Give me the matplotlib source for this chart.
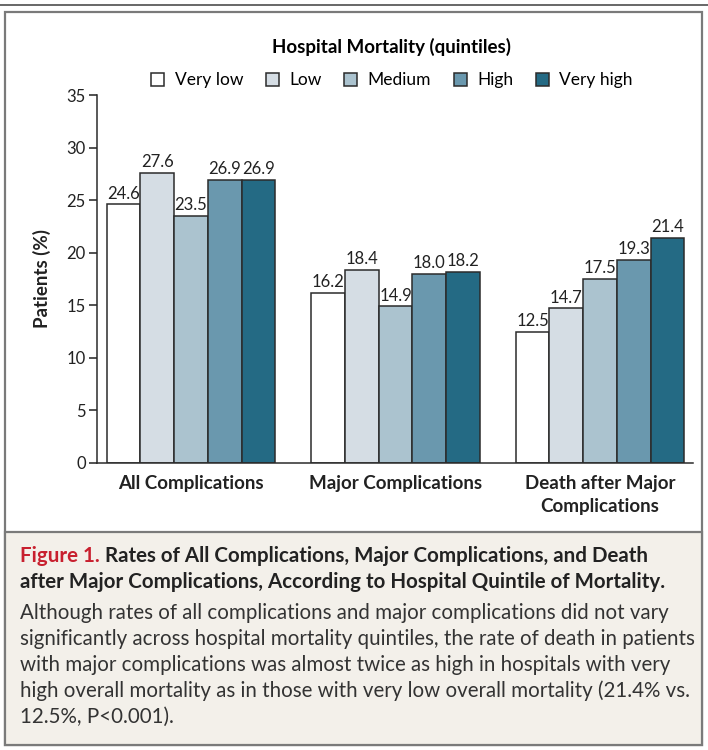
import numpy as np
import matplotlib
matplotlib.use("Agg")
import matplotlib.pyplot as plt
from matplotlib.patches import Rectangle
from matplotlib.text import Annotation

plt.rcParams['font.family'] = ['Lato', 'DejaVu Sans']

# Data
groups = ["All Complications", "Major Complications", "Death after Major\nComplications"]
quintiles = ["Very low", "Low", "Medium", "High", "Very high"]
very_low = [24.6, 16.2, 12.5]
low = [27.6, 18.4, 14.7]
medium = [23.5, 14.9, 17.5]
high = [26.9, 18.0, 19.3]
very_high = [26.9, 18.2, 21.4]
series = [very_low, low, medium, high, very_high]
colors = ["#FFFFFF", "#D5DDE4", "#ABC3CF", "#6A98AE", "#246A84"]
yticks = [0, 5, 10, 15, 20, 25, 30, 35]

caption_head = "Figure 1."
caption_title = ("Rates of All Complications, Major Complications, and Death\n"
                 "after Major Complications, According to Hospital Quintile of Mortality.")
caption_body = ("Although rates of all complications and major complications did not vary\n"
                "significantly across hospital mortality quintiles, the rate of death in patients\n"
                "with major complications was almost twice as high in hospitals with very\n"
                "high overall mortality as in those with very low overall mortality (21.4% vs.\n"
                "12.5%, P<0.001).")

fig = plt.figure(figsize=(7.08, 7.5), dpi=100)
W, H = 708, 750

def fx(px):
    return px / W

def fy(py):
    return 1 - py / H

# frame and caption panel (behind the axes)
fig.add_artist(Rectangle((fx(0), fy(6)), 1, 2 / H, transform=fig.transFigure,
                         facecolor="#6b6b6b", edgecolor="none", zorder=-10))
fig.add_artist(Rectangle((fx(5), fy(745)), fx(697), (745 - 12) / H, transform=fig.transFigure,
                         facecolor="white", edgecolor="#7a7a7a", linewidth=1.6, zorder=-10))
fig.add_artist(Rectangle((fx(5), fy(745)), fx(697), (745 - 532) / H, transform=fig.transFigure,
                         facecolor="#F3F0EA", edgecolor="#7a7a7a", linewidth=1.6, zorder=-9))

ax = fig.add_axes([fx(97), fy(463), fx(693 - 97), (463 - 95) / H])
ax.patch.set_alpha(0)
x = np.arange(len(groups))
width = 0.165
dark = "#2b2b2b"
for i, (vals, c, name) in enumerate(zip(series, colors, quintiles)):
    bars = ax.bar(x + (i - 2) * width, vals, width, color=c, edgecolor=dark,
                  linewidth=1.1, label=name)
    ax.bar_label(bars, labels=[f"{v:.1f}" for v in vals], padding=2,
                 fontsize=12, color="#222222")

ax.set_xlim(-0.46, 2.455)
ax.set_ylim(0, 35)
ax.set_yticks(yticks)
ax.set_xticks(x)
ax.set_xticklabels(groups, fontweight="bold", fontsize=13.5, color="#222222", linespacing=1.4)
ax.tick_params(axis="x", length=0, pad=9)
ax.tick_params(axis="y", length=6, width=1.1, labelsize=12, colors="#222222", pad=2)
for s in ["top", "right"]:
    ax.spines[s].set_visible(False)
for s in ["left", "bottom"]:
    ax.spines[s].set_linewidth(1.1)
    ax.spines[s].set_color(dark)
ax.set_ylabel("Patients (%)", fontweight="bold", fontsize=13.5, color="#222222", labelpad=11)

leg = fig.legend(loc="center", bbox_to_anchor=(fx(392), fy(63)), ncol=5, frameon=False,
                 title="Hospital Mortality (quintiles)",
                 title_fontproperties={"weight": "bold", "size": 13.5},
                 fontsize=12.5, handlelength=0.75, handleheight=0.75, handletextpad=0.6,
                 columnspacing=1.3)
leg._legend_box.sep = 12

# caption
t = fig.text(fx(20), fy(566), caption_head, color="#C8202F", fontweight="bold",
             fontsize=14.8, va="bottom")
fig.add_artist(Annotation(caption_title.split("\n")[0], xy=(1, 0), xycoords=t, xytext=(4, 0),
                          textcoords="offset points", fontweight="bold", fontsize=14.8,
                          color="#222222", va="bottom"))
fig.text(fx(20), fy(588), caption_title.split("\n")[1], fontweight="bold", fontsize=14.8,
         color="#222222", va="baseline")
fig.text(fx(20), fy(603), caption_body, fontsize=14.8, color="#333333", va="top",
         linespacing=1.36)

fig.savefig("out.png", dpi=100)
plt.close(fig)
